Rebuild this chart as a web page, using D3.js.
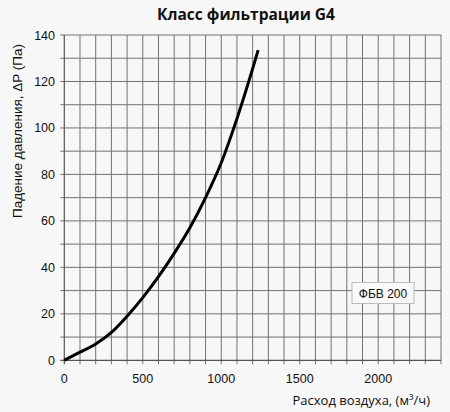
<!DOCTYPE html>
<html><head><meta charset="utf-8">
<script src="https://cdn.jsdelivr.net/npm/d3@7"></script>
<style>body{margin:0;background:#f7f7f7;}svg{display:block;}</style>
</head><body>
<script>
const flow = [0,100,200,300,400,500,600,700,800,900,1000,1100,1200,1235];
const pressure = [0,3.5,7,12,19,27,36,46,57,70,85,104,125.5,133.5];
const xTicks = [0,500,1000,1500,2000];
const yTicks = [0,20,40,60,80,100,120,140];
const title = "Класс фильтрации G4";
const xLabel = "Расход воздуха, (м³/ч)";
const yLabel = "Падение давления, ΔP (Па)";
const legendLabel = "ФБВ 200";

const W=450,H=412;
const m={l:64.3,r:441,t:35,b:360.3};
const svg=d3.select("body").append("svg").attr("width",W).attr("height",H);
svg.append("rect").attr("width",W).attr("height",H).attr("fill","#f7f7f7");
const x=d3.scaleLinear().domain([0,2400]).range([m.l,m.r]);
const y=d3.scaleLinear().domain([0,140]).range([m.b,m.t]);

const g=svg.append("g");
// grid
g.selectAll(".vx").data(d3.range(100,2401,100)).join("line")
 .attr("x1",d=>x(d)).attr("x2",d=>x(d)).attr("y1",m.t).attr("y2",m.b+4)
 .attr("stroke","#727272").attr("stroke-width",1);
g.selectAll(".hy").data(d3.range(10,141,10)).join("line")
 .attr("x1",m.l-4).attr("x2",m.r).attr("y1",d=>y(d)).attr("y2",d=>y(d))
 .attr("stroke","#727272").attr("stroke-width",1);
// axes lines
g.append("line").attr("x1",m.l).attr("x2",m.l).attr("y1",m.t).attr("y2",m.b+4).attr("stroke","#555").attr("stroke-width",1.2);
g.append("line").attr("x1",m.l-4).attr("x2",m.r).attr("y1",m.b).attr("y2",m.b).attr("stroke","#555").attr("stroke-width",1.2);

// tick labels
svg.selectAll(".yt").data(yTicks).join("text")
 .attr("x",55).attr("y",d=>y(d)+4.5).attr("text-anchor","end")
 .attr("font-family","Liberation Sans, Arial, sans-serif").attr("font-size",12.5).attr("fill","#111").text(d=>d);
svg.selectAll(".xt").data(xTicks).join("text")
 .attr("x",d=>x(d)).attr("y",383).attr("text-anchor","middle")
 .attr("font-family","Liberation Sans, Arial, sans-serif").attr("font-size",12.5).attr("fill","#111").text(d=>d);

// curve
const line=d3.line().x((d,i)=>x(flow[i])).y(d=>y(d)).curve(d3.curveMonotoneX);
svg.append("path").datum(pressure).attr("d",line).attr("fill","none")
 .attr("stroke","#000").attr("stroke-width",3).attr("stroke-linecap","butt");

// legend
const lg=svg.append("g");
lg.append("rect").attr("x",352).attr("y",282.5).attr("width",62).attr("height",21)
 .attr("fill","#f9f9f9").attr("stroke","#bbb").attr("stroke-width",1);
lg.append("text").attr("x",383).attr("y",297.5).attr("text-anchor","middle")
 .attr("font-family","Liberation Sans, Arial, sans-serif").attr("font-size",12).attr("fill","#111").text(legendLabel);

// title
svg.append("text").attr("x",246).attr("y",20).attr("text-anchor","middle")
 .attr("font-family","Open Sans, sans-serif").attr("font-weight","bold").attr("font-size",15.5).attr("fill","#111").text(title);
// x label
svg.append("text").attr("x",430).attr("y",405).attr("text-anchor","end")
 .attr("font-family","Open Sans, sans-serif").attr("font-size",13).attr("fill","#111").text(xLabel);
// y label
svg.append("text").attr("transform","translate(22,131) rotate(-90)").attr("text-anchor","middle")
 .attr("font-family","Liberation Sans, Arial, sans-serif").attr("font-size",13.5).attr("fill","#111").text(yLabel);
</script>
</body></html>
